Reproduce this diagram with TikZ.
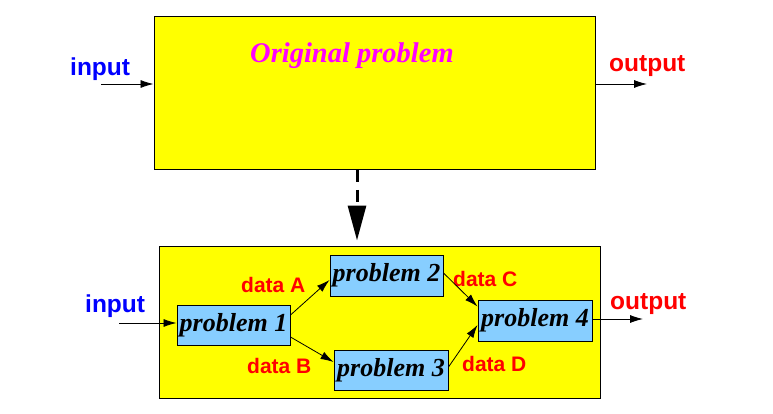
\documentclass[tikz,border=0pt]{standalone}
\usepackage{fontspec}
\setmainfont{Liberation Serif}
\newfontfamily\lsans{Liberation Sans}
\usetikzlibrary{arrows.meta}
\definecolor{boxyellow}{RGB}{255,255,0}
\definecolor{boxblue}{RGB}{135,206,255}
\definecolor{labred}{RGB}{255,0,0}
\definecolor{labblue}{RGB}{0,0,255}
\definecolor{labmag}{RGB}{255,0,255}
\tikzset{
  bigbox/.style={draw=black, line width=1pt, fill=boxyellow, minimum width=441pt, minimum height=152pt, inner sep=0pt},
  probbox/.style={draw=black, line width=1pt, fill=boxblue, minimum width=113pt, minimum height=40pt, inner sep=0pt,
    font=\fontsize{26}{28}\selectfont\bfseries\itshape},
  iolabel/.style={inner sep=0pt, anchor=base west, font=\lsans\fontsize{24.5}{28}\selectfont\bfseries},
  datalabel/.style={inner sep=0pt, anchor=base west, text=labred, font=\lsans\fontsize{21}{24}\selectfont\bfseries},
  arr/.style={line width=0.8pt, -{Latex[length=13pt,width=8pt]}},
  bigarr/.style={line width=3pt, dash pattern=on 12pt off 8pt, -{Triangle[length=35pt,width=18pt]}}
}
\begin{document}
\begin{tikzpicture}[x=1pt,y=-1pt]
\useasboundingbox (0,0) rectangle (773,414);
% top
\node[bigbox, minimum height=153pt] (top) at (374.5,93.5) {};
\node[inner sep=0pt, anchor=base west, text=labmag, font=\fontsize{28.5}{32}\selectfont\bfseries\itshape] (orig) at (250,63) {Original problem};
\node[iolabel, text=labblue] (in1) at (70,76) {input};
\node[iolabel, text=labred] (out1) at (609,72) {output};
\coordinate (in1s) at (101,84);
\coordinate (out1e) at (647,84);
\draw[arr] (in1s) -- (in1s -| top.west);
\draw[arr] (out1e -| top.east) -- (out1e);
% bottom
\node[bigbox] (bot) at (379.5,322) {};
\coordinate (dtop) at (357,170);
\draw[bigarr, shorten >=5pt] (dtop) -- (dtop |- bot.north);
\node[probbox] (p1) at (233.5,325) {problem 1};
\node[probbox, minimum height=41pt] (p2) at (386.5,275.5) {problem 2};
\node[probbox, minimum width=114pt] (p3) at (391,370) {problem 3};
\node[probbox, minimum width=114pt, minimum height=41pt] (p4) at (535,320.5) {problem 4};
\node[iolabel, text=labblue] (in2) at (85,312) {input};
\node[iolabel, text=labred] (out2) at (610,309) {output};
\node[datalabel] (da) at (241,292) {data A};
\node[datalabel] (db) at (247,373) {data B};
\node[datalabel] (dc) at (453,286) {data C};
\node[datalabel] (dd) at (462,371) {data D};
\coordinate (in2s) at (119,323);
\coordinate (out2e) at (643,319);
\draw[arr] (in2s) -- (in2s -| p1.west);
\draw[arr] (out2e -| p4.east) -- (out2e);
\draw[arr] ([yshift=10pt]p1.east) -- ([yshift=-4.5pt]p2.west);
\draw[arr] ([yshift=-12pt]p1.east) -- ([yshift=8pt]p3.west);
\draw[arr] ([yshift=2.5pt]p2.east) -- ([yshift=14pt]p4.west);
\draw[arr] ([yshift=3pt]p3.east) -- ([yshift=-4.5pt]p4.west);
\end{tikzpicture}
\end{document}
